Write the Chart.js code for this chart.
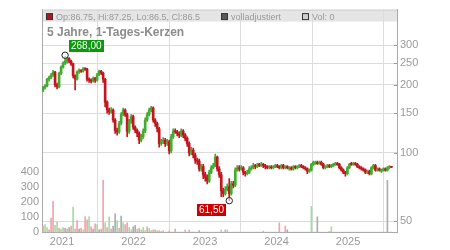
<!DOCTYPE html>
<html><head><meta charset="utf-8">
<script src="https://cdn.jsdelivr.net/npm/chart.js@4.4.1/dist/chart.umd.min.js"></script>
<style>html,body{margin:0;padding:0;background:#fff}#wrap{width:450px;height:250px}</style>
</head><body><div id="wrap"><canvas id="c" width="450" height="250"></canvas></div>
<script>
// ---- data ----
const firstYear = 2020.735;   // date of first sampled candle (decimal year)
const stepYears = 0.028;      // sampling step between candles
const yearTicks = [2021, 2022, 2023, 2024, 2025];
const priceTicks = [50, 100, 150, 200, 250, 300];
const volTicks = [0, 100, 200, 300, 400];
const titleText = "5 Jahre, 1-Tages-Kerzen";
const legendTexts = ["Op:86.75, Hi:87.25, Lo:86.5, Cl:86.5", "volladjustiert", "Vol: 0"];

const open = [190,195,198,212,216,222,228,200,196,225, 240,250,255,262,255,248,220,212,228,232, 230,236,235,212,210,208,214,210,222,230, 226,212,168,155,152,155,140,126,124,135, 148,155,148,125,138,145,130,126,122,114, 118,125,140,148,155,158,140,135,128,110, 112,114,110,112,102,118,125,124,122,120, 125,120,116,110,100,103,98,93,92,85, 87,80,78,75,82,86,88,96,85,80, 68,66,69,71,66,73,72,84,86,85, 86,82,81,82,85,86,88,87,89,88, 89,88,87,86,87,86,87,88,87,86, 88,86,87,85,86,85,87,86,87,88, 87,86,85,83,84,89,90,91,90,91, 89,86,87,88,87,88,89,90,89,86, 84,82,81,86,90,89,90,89,87,86, 85,84,82,83,81,86,88,84,85,83, 84,85,84,86,87];
const high = [197,201,214,219,225,232,230,204,228,243, 253,268,265,264,258,250,222,231,236,234, 239,238,237,215,213,217,216,225,233,232, 228,214,170,158,159,157,142,129,138,151, 158,157,150,141,148,147,132,128,124,121, 128,143,151,158,161,160,142,137,130,115, 117,116,115,114,121,128,128,126,124,128, 127,122,118,112,106,105,100,95,94,89, 89,82,80,84,88,90,99,97,87,82, 70,71,73,77,75,75,86,88,88,88, 87,83,84,87,88,90,89,90,90,91, 90,89,88,88,88,88,89,89,88,89, 89,88,88,87,87,88,88,88,89,89, 88,87,86,85,90,92,92,92,92,92, 90,88,89,89,89,90,91,91,90,87, 85,83,87,90,91,91,91,90,88,87, 86,85,84,84,87,89,89,86,86,85, 86,86,87,88,87.25];
const low = [187,192,196,208,213,218,196,192,194,222, 237,246,250,251,244,215,190,210,225,227, 228,232,208,205,204,206,205,208,220,222, 205,160,150,148,150,137,122,120,122,133, 146,145,118,122,135,127,123,118,110,112, 116,123,138,146,152,137,131,124,106,108, 110,107,108,99,100,116,122,119,117,118, 117,113,107,97,98,95,90,89,83,83, 77,75,73,74,81,85,87,83,78,64, 64,65,68,61.5,65,70,71,83,83,84, 80,79,80,81,84,85,85,86,87,87, 86,85,85,85,85,85,86,86,85,85, 85,85,85,84,84,84,85,85,86,86, 85,84,81,82,83,88,89,89,89,88, 85,85,86,86,86,87,88,88,85,83, 81,79,80,85,88,88,88,86,85,84, 83,81,81,80,80,85,83,83,83,82, 83,83,83,85,86];
const close = [195,198,212,216,222,228,200,196,225,240, 250,255,262,255,248,220,212,228,232,230, 236,235,212,210,208,214,210,222,230,226, 212,168,155,152,155,140,126,124,135,148, 155,148,125,138,145,130,126,122,114,118, 125,140,148,155,158,140,135,128,110,112, 114,110,112,102,118,125,124,122,120,125, 120,116,110,100,103,98,93,92,85,87, 80,78,75,82,86,88,96,85,80,68, 66,69,71,66,73,72,84,86,85,86, 82,81,82,85,86,88,87,88,88,89, 88,87,86,87,86,87,88,87,86,88, 86,87,86,86,85,87,86,87,88,87, 86,85,83,84,89,91,91,90,91,89, 86,87,88,87,88,89,90,89,86,84, 82,81,86,89,89,90,89,87,86,85, 84,82,83,81,86,88,84,85,84,84, 85,84,86,87,86.5];
const volume = [40,50,30,15,92,205,45,65,25,20, 30,25,20,30,40,165,20,75,20,25, 15,100,80,100,35,20,55,50,15,20, 342,60,30,100,20,40,120,75,25,105, 60,50,60,30,15,35,45,20,25,15, 30,10,35,25,10,15,15,8,10,5, 10,0,0,8,0,0,20,0,0,0, 0,12,0,12,0,0,0,0,10,0, 0,0,0,0,0,0,0,0,0,15, 0,15,15,0,0,0,0,0,0,0, 0,0,0,0,0,0,0,0,0,0, 6,0,0,0,0,0,0,0,60,0, 0,40,15,0,0,0,0,0,0,0, 0,0,0,0,170,0,0,100,0,0, 0,0,0,5,35,0,0,0,0,0, 0,0,0,0,0,0,0,0,0,0, 0,0,0,0,0,0,0,0,0,0, 0,0,342,0,0];
// u = up volume, d = down volume, f = unadjusted/neutral
const volType = "duuddduudu"+"ufdfduddfd"+"uddudfdufd"+"dududffudf"+"udduuffudu"+"uuduuddddu"+"ududuuddfu"+"ddddudddfu"+"ddduuuuddu"+"ddududuudu"+"dduuuduudu"+"dududududu"+"udfuuuuuuu"+"uuuuuuufuu"+"uuuduuuuuu"+"uuuuuuuuuu"+"uuuuuuuuuu"+"uufuu";

// ---- styles ----
const UP = '#43ab2f', DOWN = '#c2161f';
const VOLC = {u:'#a6dba0', d:'#f2a3ab', f:'#adadad'};
const GRID = '#dcdcdc', AXIS = '#aaaaaa', TXT = '#9a9a9a';
const FONT = "'Liberation Sans', Arial, sans-serif";

const xs = open.map((_, i) => firstYear + i * stepYears);
const wickData = xs.map((x, i) => ({x, y: [low[i], high[i]]}));
const bodyData = xs.map((x, i) => ({x, y: [open[i], close[i]]}));
const volData = xs.map((x, i) => ({x, y: volume[i]}));
const dirColor = i => close[i] >= open[i] ? UP : DOWN;

const overlay = {
  id: 'overlay',
  beforeDraw(chart) {
    const {ctx, chartArea: a} = chart;
    ctx.save();
    ctx.fillStyle = '#e5e5e5';
    ctx.fillRect(a.left, a.top, a.right - a.left, 12);
    ctx.restore();
  },
  afterDraw(chart) {
    const {ctx, chartArea: a, scales} = chart;
    ctx.save();
    ctx.lineWidth = 1;
    ctx.strokeStyle = '#cfcfcf';
    ctx.beginPath(); ctx.moveTo(a.left, a.top + 0.5); ctx.lineTo(a.right, a.top + 0.5); ctx.stroke();
    // inner tick dashes on price axis
    ctx.strokeStyle = '#999';
    priceTicks.forEach(v => {
      const y = Math.round(scales.y.getPixelForValue(v)) + 0.5;
      ctx.beginPath(); ctx.moveTo(a.right - 3, y); ctx.lineTo(a.right, y); ctx.stroke();
    });
    // legend in header
    ctx.font = '9px ' + FONT;
    ctx.textBaseline = 'middle';
    const ly = a.top + 7.5;
    const items = [[a.left + 4, '#b3141c'], [a.left + 179, '#5a5a5a'], [a.left + 260, '#d0d0d0']];
    items.forEach(([x, col], k) => {
      ctx.fillStyle = col; ctx.fillRect(x + 0.5, ly - 3.5, 6, 6);
      ctx.strokeStyle = '#333'; ctx.strokeRect(x + 0.5, ly - 3.5, 6, 6);
      ctx.fillStyle = TXT; ctx.fillText(legendTexts[k], x + 10, ly);
    });
    // title
    ctx.font = 'bold 12px ' + FONT;
    ctx.fillStyle = '#8c8c8c';
    ctx.textBaseline = 'alphabetic';
    ctx.fillText(titleText, a.left + 5, a.top + 26);
    // high / low annotations
    let hi = 0, lo = 0;
    high.forEach((v, i) => { if (v > high[hi]) hi = i; });
    low.forEach((v, i) => { if (v < low[lo]) lo = i; });
    const fmt = v => v.toFixed(2).replace('.', ',');
    const mark = (i, v, col, above) => {
      const px = scales.x.getPixelForValue(xs[i]);
      const py = scales.y.getPixelForValue(v) + (above ? -1 : 0);
      ctx.font = '10px ' + FONT;
      const t = fmt(v);
      const w = Math.round(ctx.measureText(t).width) + 4, h = 12;
      const bx = above ? Math.round(px + 4) : Math.round(px - 3 - w);
      const by = above ? Math.round(py - 3 - h) : Math.round(py + 3);
      ctx.fillStyle = col; ctx.fillRect(bx, by, w, h);
      ctx.fillStyle = '#fff'; ctx.textBaseline = 'middle'; ctx.textAlign = 'left';
      ctx.fillText(t, bx + 2, by + h / 2 + 0.5);
      ctx.beginPath(); ctx.arc(px, py, 3.2, 0, Math.PI * 2);
      ctx.fillStyle = 'rgba(255,255,255,0.6)'; ctx.fill();
      ctx.strokeStyle = '#222'; ctx.lineWidth = 1; ctx.stroke();
    };
    mark(hi, high[hi], '#0c9a0c', true);
    mark(lo, low[lo], '#cc0000', false);
    ctx.restore();
  }
};

new Chart(document.getElementById('c'), {
  type: 'bar',
  data: {
    datasets: [
      {data: bodyData, xAxisID: 'x', yAxisID: 'y', order: 0, barThickness: 2, minBarLength: 1, grouped: false,
       backgroundColor: c => dirColor(c.dataIndex), borderWidth: 0},
      {data: wickData, xAxisID: 'x', yAxisID: 'y', order: 1, barThickness: 1, grouped: false,
       backgroundColor: c => dirColor(c.dataIndex), borderWidth: 0},
      {data: volData, xAxisID: 'x', yAxisID: 'vol', order: 2, barThickness: 1, grouped: false,
       backgroundColor: c => VOLC[volType[c.dataIndex]], borderWidth: 0}
    ]
  },
  options: {
    responsive: false, animation: false, devicePixelRatio: 1,
    layout: {padding: {top: 7, left: 0, right: 0, bottom: 0}},
    plugins: {legend: {display: false}, tooltip: {enabled: false}, title: {display: false}},
    events: [],
    scales: {
      x: {
        type: 'linear', offset: false, min: 2020.72, max: 2025.685,
        afterBuildTicks: s => { s.ticks = yearTicks.map(v => ({value: v})); },
        afterFit: s => { s.height = 18; },
        grid: {color: GRID, drawTicks: false},
        border: {color: AXIS},
        ticks: {color: TXT, padding: 3, font: {family: FONT, size: 11}, callback: v => String(v), maxRotation: 0}
      },
      y: {
        type: 'logarithmic', position: 'right', min: 44.7, max: 431,
        afterBuildTicks: s => { s.ticks = priceTicks.map(v => ({value: v})); },
        afterFit: s => { s.width = 53; },
        grid: {color: GRID, drawTicks: false},
        border: {color: AXIS},
        ticks: {color: TXT, padding: 3, font: {family: FONT, size: 11}, callback: v => String(v)}
      },
      vol: {
        type: 'linear', position: 'left', min: 0, max: 1475,
        afterBuildTicks: s => { s.ticks = volTicks.map(v => ({value: v})); },
        afterFit: s => { s.width = 42; },
        grid: {display: false, drawTicks: false},
        border: {color: AXIS},
        ticks: {color: TXT, padding: 3, font: {family: FONT, size: 11}, callback: v => String(v)}
      }
    }
  },
  plugins: [overlay]
});
</script>
</body></html>
